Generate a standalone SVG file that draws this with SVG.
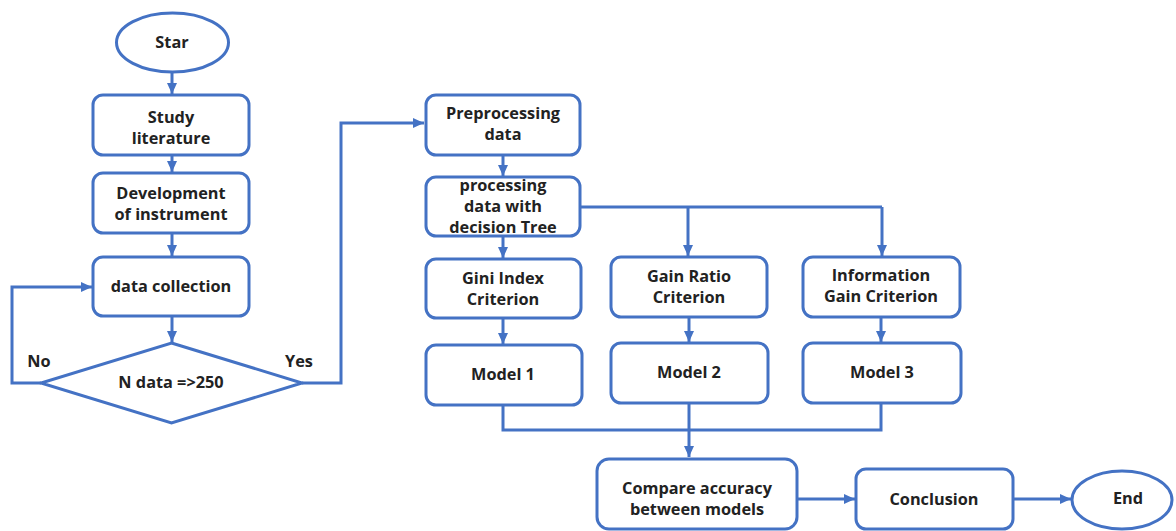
<svg xmlns="http://www.w3.org/2000/svg" width="1176" height="531" viewBox="0 0 1176 531">
<defs>
<marker id="ah" markerUnits="userSpaceOnUse" markerWidth="12" markerHeight="12" viewBox="0 0 12 12" refX="11" refY="6" orient="auto">
<path d="M0,1 L11,6 L0,11 Z" fill="#4472C4"/>
</marker>
<style>
.box{fill:#fff;stroke:#4472C4;stroke-width:3}
.ln{fill:none;stroke:#4472C4;stroke-width:3}
.t{font-family:"Open Sans","Noto Sans",sans-serif;font-weight:bold;font-size:16.3px;fill:#222;text-anchor:middle}
</style>
</defs>
<rect width="1176" height="531" fill="#fff"/>
<g id="connectors">
<path class="ln" d="M172,72 V94" marker-end="url(#ah)"/>
<path class="ln" d="M172,155 V172" marker-end="url(#ah)"/>
<path class="ln" d="M172,233 V256" marker-end="url(#ah)"/>
<path class="ln" d="M172,316 V342" marker-end="url(#ah)"/>
<path class="ln" d="M41,383 H12 V287 H92" marker-end="url(#ah)"/>
<path class="ln" d="M302,383 H341 V123 H424" marker-end="url(#ah)"/>
<path class="ln" d="M503,155 V176" marker-end="url(#ah)"/>
<path class="ln" d="M503,236 V258" marker-end="url(#ah)"/>
<path class="ln" d="M580,207 H882"/>
<path class="ln" d="M688,207 V256" marker-end="url(#ah)"/>
<path class="ln" d="M882,207 V256" marker-end="url(#ah)"/>
<path class="ln" d="M503,318 V344" marker-end="url(#ah)"/>
<path class="ln" d="M689,317 V342" marker-end="url(#ah)"/>
<path class="ln" d="M881,317 V342" marker-end="url(#ah)"/>
<path class="ln" d="M503,405 V430 H881 V403"/>
<path class="ln" d="M689,403 V457" marker-end="url(#ah)"/>
<path class="ln" d="M797,499 H855" marker-end="url(#ah)"/>
<path class="ln" d="M1013,499 H1071" marker-end="url(#ah)"/>
</g>
<g id="start"><ellipse class="box" cx="172.5" cy="42.5" rx="56" ry="29.5"/><text class="t" x="172" y="48">Star</text></g>
<g id="study"><rect class="box" x="93" y="95" width="156" height="60" rx="10"/><text class="t" x="171" y="123">Study</text><text class="t" x="171" y="144">literature</text></g>
<g id="development"><rect class="box" x="93" y="173" width="156" height="60" rx="10"/><text class="t" x="171" y="199">Development</text><text class="t" x="171" y="220">of instrument</text></g>
<g id="collection"><rect class="box" x="93" y="257" width="156" height="59" rx="10"/><text class="t" x="171" y="292">data collection</text></g>
<g id="decision"><polygon class="box" points="171.5,343 302,383 171.5,423 41,383"/><text class="t" x="171" y="388">N data =&gt;250</text></g>
<g id="no-label"><text class="t" x="39" y="367">No</text></g>
<g id="yes-label"><text class="t" x="299" y="367">Yes</text></g>
<g id="preprocessing"><rect class="box" x="426" y="95" width="154" height="60" rx="10"/><text class="t" x="503" y="119">Preprocessing</text><text class="t" x="503" y="140">data</text></g>
<g id="processing"><rect class="box" x="426" y="177" width="154" height="59" rx="10"/><text class="t" x="503" y="191">processing</text><text class="t" x="503" y="212">data with</text><text class="t" x="503" y="233">decision Tree</text></g>
<g id="gini"><rect class="box" x="426" y="259" width="155" height="59" rx="10"/><text class="t" x="503" y="284">Gini Index</text><text class="t" x="503" y="305">Criterion</text></g>
<g id="gainratio"><rect class="box" x="611" y="257" width="156" height="60" rx="10"/><text class="t" x="689" y="282">Gain Ratio</text><text class="t" x="689" y="303">Criterion</text></g>
<g id="infogain"><rect class="box" x="803" y="257" width="157" height="60" rx="10"/><text class="t" x="881" y="281">Information</text><text class="t" x="881" y="302">Gain Criterion</text></g>
<g id="model1"><rect class="box" x="426" y="345" width="156" height="60" rx="10"/><text class="t" x="503" y="380">Model 1</text></g>
<g id="model2"><rect class="box" x="611" y="343" width="157" height="60" rx="10"/><text class="t" x="689" y="378">Model 2</text></g>
<g id="model3"><rect class="box" x="803" y="343" width="158" height="60" rx="10"/><text class="t" x="882" y="378">Model 3</text></g>
<g id="compare"><rect class="box" x="597" y="459" width="200" height="70" rx="12"/><text class="t" x="697" y="494">Compare accuracy</text><text class="t" x="697" y="515">between models</text></g>
<g id="conclusion"><rect class="box" x="856" y="469" width="157" height="60" rx="10"/><text class="t" x="934" y="505">Conclusion</text></g>
<g id="end"><ellipse class="box" cx="1122" cy="500" rx="50" ry="29"/><text class="t" x="1128" y="504">End</text></g>
</svg>
